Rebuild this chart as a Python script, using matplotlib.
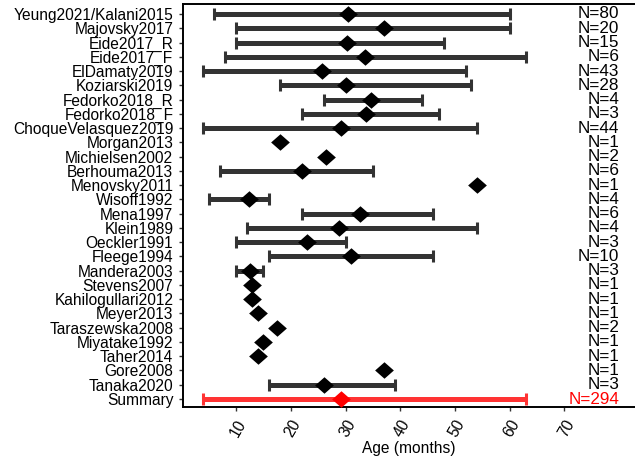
import numpy as np
import matplotlib
matplotlib.use("Agg")
import matplotlib.pyplot as plt

plt.rcParams["font.family"] = ["Liberation Sans", "DejaVu Sans"]

studies = [
    "Yeung2021/Kalani2015", "Majovsky2017", "Eide2017_R", "Eide2017_F",
    "ElDamaty2019", "Koziarski2019", "Fedorko2018_R", "Fedorko2018_F",
    "ChoqueVelasquez2019", "Morgan2013", "Michielsen2002", "Berhouma2013",
    "Menovsky2011", "Wisoff1992", "Mena1997", "Klein1989", "Oeckler1991",
    "Fleege1994", "Mandera2003", "Stevens2007", "Kahilogullari2012",
    "Meyer2013", "Taraszewska2008", "Miyatake1992", "Taher2014", "Gore2008",
    "Tanaka2020", "Summary",
]
mean_age = [30.5, 37, 30.2, 33.6, 25.7, 30, 34.6, 33.7, 29.1, 18, 26.5, 22.1,
            54, 12.4, 32.6, 28.8, 23, 31, 12.5, 12.9, 13, 14, 17.5, 15, 14, 37,
            26, 29.1]
low_age = [6, 10, 10, 8, 4, 18, 26, 22, 4, np.nan, np.nan, 7,
           np.nan, 5, 22, 12, 10, 16, 10, np.nan, np.nan,
           np.nan, np.nan, np.nan, np.nan, np.nan, 16, 4]
high_age = [60, 60, 48, 63, 52, 53, 44, 47, 54, np.nan, np.nan, 35,
            np.nan, 16, 46, 54, 30, 46, 15, np.nan, np.nan,
            np.nan, np.nan, np.nan, np.nan, np.nan, 39, 63]
n_pat = [80, 20, 15, 6, 43, 28, 4, 3, 44, 1, 2, 6, 1, 4, 6, 4, 3, 10, 3, 1, 1,
         1, 2, 1, 1, 1, 3, 294]

mean_age = np.array(mean_age, dtype=float)
low_age = np.array(low_age, dtype=float)
high_age = np.array(high_age, dtype=float)
ypos = np.arange(len(studies))[::-1]

# ggplot-like diamond, a little wider than tall
DIAMOND = [(-1, 0), (0, 0.88), (1, 0), (0, -0.88), (-1, 0)]

fig = plt.figure(figsize=(6.35, 4.57), dpi=100)
ax = fig.add_axes([183 / 635, 50 / 457, 1 - 183 / 635, 453 / 457 - 50 / 457])

bar_col = ["#FF3333" if s == "Summary" else "#333333" for s in studies]
pt_col = ["#FF0000" if s == "Summary" else "black" for s in studies]

for i in range(len(studies)):
    if not np.isnan(low_age[i]):
        ax.errorbar(mean_age[i], ypos[i],
                    xerr=[[mean_age[i] - low_age[i]], [high_age[i] - mean_age[i]]],
                    fmt="none", ecolor=bar_col[i], elinewidth=3.6,
                    capsize=4, capthick=2.2, zorder=2)
    ax.plot(mean_age[i], ypos[i], marker=DIAMOND, ms=13.5, color=pt_col[i],
            mec=pt_col[i], mew=0, zorder=3)
    ax.text(80, ypos[i], f"N={n_pat[i]}", ha="right", va="center",
            fontsize=12.3, color="#FF0000" if studies[i] == "Summary" else "black")

ax.set_xlim(0.3, 82.9)
ax.set_ylim(-0.56, 27.7)
ax.set_yticks(ypos)
ax.set_yticklabels(studies, fontsize=11.2)
ax.set_xticks([10, 20, 30, 40, 50, 60, 70])
ax.set_xticklabels(["10", "20", "30", "40", "50", "60", "70"], fontsize=11.2,
                   rotation=60, ha="right", rotation_mode="anchor")
ax.set_xlabel("Age (months)", fontsize=11.2, labelpad=1)

ax.tick_params(axis="both", length=3, width=1, color="#333333")
ax.tick_params(axis="y", pad=4)
ax.tick_params(axis="x", pad=4)
for side in ["left", "bottom", "top"]:
    ax.spines[side].set_linewidth(1.4)
    ax.spines[side].set_color("black")
ax.spines["right"].set_visible(False)

fig.savefig("out.png", dpi=100)
